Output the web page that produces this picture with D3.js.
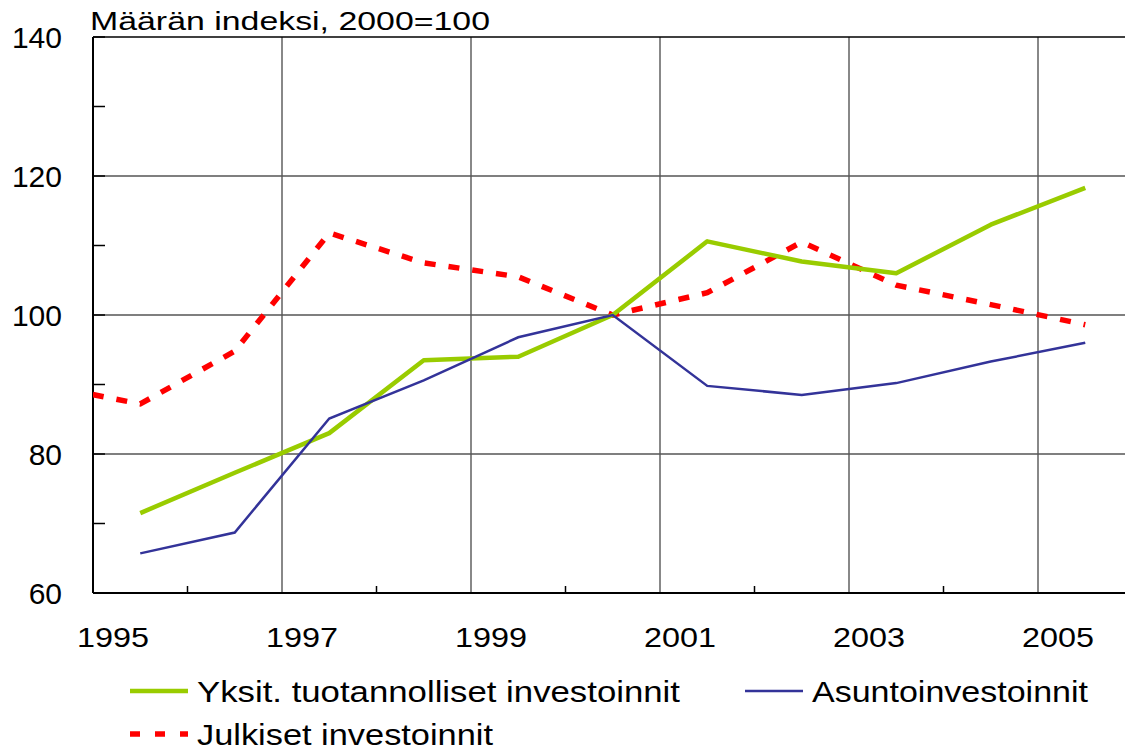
<!DOCTYPE html>
<html>
<head>
<meta charset="utf-8">
<script src="https://cdn.jsdelivr.net/npm/d3@7"></script>
<style>
  body { margin: 0; background: #fff; }
  svg text { font-family: "Liberation Sans", Arial, sans-serif; fill: #000; }
</style>
</head>
<body>
<div id="chart"></div>
<script>
// vuodet (pisteet vuoden puolivälissä)
const years = [1995, 1996, 1997, 1998, 1999, 2000, 2001, 2002, 2003, 2004, 2005];
const yksityiset = [71.5, 77.3, 83.0, 93.5, 94.0, 100.0, 110.6, 107.7, 106.0, 113.0, 118.3];
const asunto = [65.7, 68.7, 85.1, 90.6, 96.8, 100.0, 89.8, 88.5, 90.2, 93.3, 96.0];
// julkiset alkaa jo 1994 (leikataan kuvan reunaan)
const julkisetYears = [1994, 1995, 1996, 1997, 1998, 1999, 2000, 2001, 2002, 2003, 2004, 2005];
const julkiset = [89.9, 87.2, 94.8, 111.8, 107.5, 105.5, 100.0, 103.2, 110.5, 104.3, 101.5, 98.6];

const yTicks = [60, 80, 100, 120, 140];
const yMinor = [70, 90, 110, 130];
const xLabels = [1995, 1997, 1999, 2001, 2003, 2005];

const W = 1125, H = 752;
const pLeft = 93, pRight = 1132.5, pTop = 37, pBottom = 593;

const svg = d3.select("#chart").append("svg")
  .attr("width", W).attr("height", H);

const x = d3.scaleLinear().domain([1995, 2006]).range([pLeft, pRight]);
const y = d3.scaleLinear().domain([60, 140]).range([pBottom, pTop]);

svg.append("defs").append("clipPath").attr("id", "plot")
  .append("rect").attr("x", pLeft).attr("y", pTop - 5)
  .attr("width", W - pLeft).attr("height", pBottom - pTop + 10);

// pystysuorat ruudukkoviivat parittomille vuosille
svg.append("g").selectAll("line").data(xLabels.slice(1)).join("line")
  .attr("x1", d => x(d)).attr("x2", d => x(d))
  .attr("y1", pTop).attr("y2", pBottom)
  .attr("stroke", "#888").attr("stroke-width", 2);

// vaakasuorat ruudukkoviivat
svg.append("g").selectAll("line").data([80, 100, 120]).join("line")
  .attr("x1", pLeft).attr("x2", W)
  .attr("y1", d => y(d)).attr("y2", d => y(d))
  .attr("stroke", "#555").attr("stroke-width", 1.5);

// pienet tikit x-akselilla
svg.append("g").selectAll("line").data(d3.range(1996, 2006, 2)).join("line")
  .attr("x1", d => x(d)).attr("x2", d => x(d))
  .attr("y1", pBottom).attr("y2", pBottom - 7)
  .attr("stroke", "#000").attr("stroke-width", 1.5);

// y-akselin tikit
svg.append("g").selectAll("line").data(yTicks.concat(yMinor)).join("line")
  .attr("x1", pLeft).attr("x2", pLeft + 12)
  .attr("y1", d => y(d)).attr("y2", d => y(d))
  .attr("stroke", "#000").attr("stroke-width", 1.5);

// akselit ja yläreuna
svg.append("line").attr("x1", pLeft).attr("x2", pLeft).attr("y1", pTop).attr("y2", pBottom)
  .attr("stroke", "#000").attr("stroke-width", 2);
svg.append("line").attr("x1", pLeft).attr("x2", W).attr("y1", pBottom).attr("y2", pBottom)
  .attr("stroke", "#000").attr("stroke-width", 2);
svg.append("line").attr("x1", pLeft).attr("x2", W).attr("y1", pTop).attr("y2", pTop)
  .attr("stroke", "#000").attr("stroke-width", 1.5);

// y-akselin tekstit
svg.append("g").selectAll("text").data(yTicks).join("text")
  .attr("x", 62).attr("y", d => y(d)).attr("dy", "0.36em")
  .attr("text-anchor", "end").style("font-size", "30px")
  .text(d => d);

// x-akselin tekstit
svg.append("g").selectAll("text").data(xLabels).join("text")
  .attr("x", d => x(d) + 20).attr("y", 647)
  .attr("text-anchor", "middle").style("font-size", "28px")
  .attr("textLength", 72).attr("lengthAdjust", "spacingAndGlyphs")
  .text(d => d);

svg.append("text").attr("x", 90).attr("y", 30)
  .style("font-size", "26px")
  .attr("textLength", 400).attr("lengthAdjust", "spacingAndGlyphs")
  .text("Määrän indeksi, 2000=100");

const line = d3.line().x(d => x(d[0] + 0.5)).y(d => y(d[1]));
const plot = svg.append("g").attr("clip-path", "url(#plot)");

plot.append("path").datum(d3.zip(julkisetYears, julkiset))
  .attr("d", line).attr("fill", "none")
  .attr("stroke", "#ff0000").attr("stroke-width", 5.5)
  .attr("stroke-dasharray", "11,13");

plot.append("path").datum(d3.zip(years, yksityiset))
  .attr("d", line).attr("fill", "none")
  .attr("stroke", "#99cc00").attr("stroke-width", 4.5)
  .attr("stroke-linejoin", "round");

plot.append("path").datum(d3.zip(years, asunto))
  .attr("d", line).attr("fill", "none")
  .attr("stroke", "#333399").attr("stroke-width", 2.5);

// selite
const legend = [
  { name: "Yksit. tuotannolliset investoinnit", color: "#99cc00", w: 4.5, dash: null, x: 130, y: 691, len: 483 },
  { name: "Asuntoinvestoinnit", color: "#333399", w: 2.5, dash: null, x: 745, y: 691, len: 276 },
  { name: "Julkiset investoinnit", color: "#ff0000", w: 5.5, dash: "10,15", x: 130, y: 734, len: 296 }
];
const lg = svg.append("g").selectAll("g").data(legend).join("g");
lg.append("line")
  .attr("x1", d => d.x).attr("x2", d => d.x + 58)
  .attr("y1", d => d.y).attr("y2", d => d.y)
  .attr("stroke", d => d.color).attr("stroke-width", d => d.w)
  .attr("stroke-dasharray", d => d.dash);
lg.append("text")
  .attr("x", d => d.x + 67).attr("y", d => d.y + 11)
  .style("font-size", "29px")
  .attr("textLength", d => d.len).attr("lengthAdjust", "spacingAndGlyphs")
  .text(d => d.name);
</script>
</body>
</html>
